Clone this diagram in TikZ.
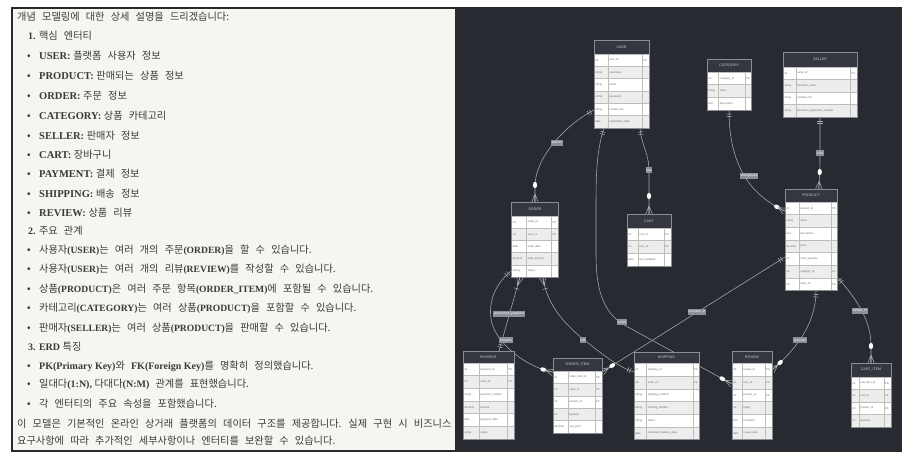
\documentclass[tikz,border=0pt]{standalone}
\usepackage{fontspec}
\setmainfont{Noto Sans CJK KR}[WordSpace=2.7]
\newfontfamily\latf{Liberation Serif}
\newfontfamily\sansf{Liberation Sans}
\usetikzlibrary{decorations.markings}
\pgfdeclarelayer{bg}
\pgfdeclarelayer{lines}
\pgfsetlayers{bg,lines,main}
\definecolor{paper}{HTML}{F5F5F2}
\definecolor{frame}{HTML}{2A2A2A}
\definecolor{ink}{HTML}{3A3A3A}
\definecolor{dark}{HTML}{272A31}
\definecolor{hdr}{HTML}{34373F}
\definecolor{tabline}{HTML}{8A8D94}
\definecolor{rowA}{HTML}{FFFFFF}
\definecolor{rowB}{HTML}{EDEDED}
\definecolor{cellline}{HTML}{BDBDBD}
\definecolor{lineC}{HTML}{A8AAB0}
\definecolor{lblfill}{HTML}{8C8F97}
\definecolor{celltext}{HTML}{6A6A6A}
\definecolor{hdrtext}{HTML}{C8CACF}

\newcommand\ltn[1]{{\latf\bfseries\fontsize{10}{12}\selectfont #1}}
\newcommand\ltb[1]{{\latf\bfseries\fontsize{10.5}{12}\selectfont #1}}
\newcommand\lts[1]{{\latf\bfseries\fontsize{9.6}{12}\selectfont #1}}
\newcommand\bul{\makebox[12pt][l]{\ltn{\textbullet}}}

\tikzset{
  txt/.style={anchor=base west, inner sep=0pt, text=ink, font=\fontsize{10.2}{12}\selectfont},
  conn/.style={draw=lineC, line width=0.55pt},
  tick/.style={draw=lineC, line width=0.55pt},
  oneS/.style={postaction={decorate,decoration={markings,
     mark=at position 4pt with {\draw[tick] (0,-2.6pt)--(0,2.6pt);},
     mark=at position 6.5pt with {\draw[tick] (0,-2.6pt)--(0,2.6pt);}}}},
  oneE/.style={postaction={decorate,decoration={markings,
     mark=at position -6.5pt with {\draw[tick] (0,-2.6pt)--(0,2.6pt);},
     mark=at position -4pt with {\draw[tick] (0,-2.6pt)--(0,2.6pt);}}}},
  manyE/.style={postaction={decorate,decoration={markings,
     mark=at position -#1 with {\fill[white] (0,0) ellipse (3.2pt and 2.1pt);},
     mark=at position -8pt with {\draw[tick] (0,0)--(8pt,3.2pt) (0,0)--(8pt,0pt) (0,0)--(8pt,-3.2pt);}}}},
  manyE/.default=17pt,
  manyS/.style={postaction={decorate,decoration={markings,
     mark=at position 9pt with {\draw[tick] (0,0)--(-9pt,3.2pt) (0,0)--(-9pt,0pt) (0,0)--(-9pt,-3.2pt);},
     mark=at position 12pt with {\draw[tick] (0,-2.6pt)--(0,2.6pt);}}}},
  lbl/.style={fill=lblfill, text=white, inner sep=0.8pt, minimum height=6.5pt,
     font=\sansf\fontsize{3.3}{3.3}\selectfont},
  hdrlbl/.style={text=hdrtext, inner sep=0pt, font=\sansf\fontsize{3.6}{3.6}\selectfont},
  celltxt/.style={anchor=west, text=celltext, inner sep=0pt, font=\sansf\fontsize{2.7}{2.7}\selectfont},
  tabframe/.style={draw=tabline, line width=0.6pt, inner sep=0pt, outer sep=0pt}
}

% #1 name #2 x #3 y #4 width #5 type col #6 key col #7 rows #8 title #9 rows
\newcommand\erdtable[9]{%
  \pgfmathsetmacro\tabH{\hh+#7*\rh}%
  \fill[hdr] (#2,#3) rectangle ++(#4,\hh);
  \node[hdrlbl] at (#2+#4/2,#3+\hh/2) {#8};
  \foreach \ty/\nm/\ky [count=\i] in {#9}{%
    \pgfmathsetmacro\yy{#3+\hh+(\i-1)*\rh}%
    \pgfmathtruncatemacro\odd{mod(\i,2)}%
    \ifnum\odd=1 \colorlet{rc}{rowA}\else\colorlet{rc}{rowB}\fi
    \filldraw[fill=rc,draw=cellline,line width=0.4pt] (#2,\yy) rectangle ++(#5,\rh);
    \filldraw[fill=rc,draw=cellline,line width=0.4pt] (#2+#5,\yy) rectangle ++(#4-#5-#6,\rh);
    \filldraw[fill=rc,draw=cellline,line width=0.4pt] (#2+#4-#6,\yy) rectangle ++(#6,\rh);
    \node[celltxt] at (#2+1.2,\yy+\rh/2) {\ty};
    \node[celltxt] at (#2+#5+1.2,\yy+\rh/2) {\nm};
    \node[celltxt] at (#2+#4-#6+1,\yy+\rh/2) {\ky};
  }
  \node[tabframe,anchor=north west,minimum width=#4pt,minimum height=\tabH pt] (#1) at (#2,#3) {};
}

\begin{document}
\begin{tikzpicture}[x=1pt,y=-1pt]
\useasboundingbox (0,0) rectangle (914,463);
\begin{pgfonlayer}{bg}
  \fill[white] (0,0) rectangle (914,463);
  \fill[paper] (12,8) rectangle (455.5,451);
  \fill[dark] (455.5,8) rectangle (901,451);
  \draw[frame, line width=1.4pt] (12,8) rectangle (901,451);
  \draw[frame, line width=1.2pt] (455.5,8) -- (455.5,451);
\end{pgfonlayer}

% ---------- left text panel ----------
\node[txt] (t1) at (17,20) {개념 모델링에 대한 상세 설명을 드리겠습니다:};
\node[txt] (t2) at (28,39) {\ltn{1. }핵심 엔터티};
\node[txt] (t3) at (27,59) {\bul\ltb{USER: }플랫폼 사용자 정보};
\node[txt] (t4) at (27,79) {\bul\ltb{PRODUCT: }판매되는 상품 정보};
\node[txt] (t5) at (27,99) {\bul\ltb{ORDER: }주문 정보};
\node[txt] (t6) at (27,119) {\bul\ltb{CATEGORY: }상품 카테고리};
\node[txt] (t7) at (27,139) {\bul\ltb{SELLER: }판매자 정보};
\node[txt] (t8) at (27,158) {\bul\ltb{CART: }장바구니};
\node[txt] (t9) at (27,177) {\bul\ltb{PAYMENT: }결제 정보};
\node[txt] (t10) at (27,197) {\bul\ltb{SHIPPING: }배송 정보};
\node[txt] (t11) at (27,216) {\bul\ltb{REVIEW: }상품 리뷰};
\node[txt] (t12) at (28,234) {\ltn{2. }주요 관계};
\node[txt] (t13) at (27,253) {\bul 사용자\lts{(USER)}는 여러 개의 주문\lts{(ORDER)}을 할 수 있습니다.};
\node[txt] (t14) at (27,272) {\bul 사용자\lts{(USER)}는 여러 개의 리뷰\lts{(REVIEW)}를 작성할 수 있습니다.};
\node[txt] (t15) at (27,292) {\bul 상품\lts{(PRODUCT)}은 여러 주문 항목\lts{(ORDER\_ITEM)}에 포함될 수 있습니다.};
\node[txt] (t16) at (27,311) {\bul 카테고리\lts{(CATEGORY)}는 여러 상품\lts{(PRODUCT)}을 포함할 수 있습니다.};
\node[txt] (t17) at (27,331) {\bul 판매자\lts{(SELLER)}는 여러 상품\lts{(PRODUCT)}을 판매할 수 있습니다.};
\node[txt] (t18) at (28,350) {\ltn{3. ERD }특징};
\node[txt] (t19) at (27,369) {\bul\ltn{PK(Primary Key)}와 \ltn{FK(Foreign Key)}를 명확히 정의했습니다.};
\node[txt] (t20) at (27,387) {\bul 일대다\ltn{(1:N), }다대다\ltn{(N:M)} 관계를 표현했습니다.};
\node[txt] (t21) at (27,407) {\bul 각 엔터티의 주요 속성을 포함했습니다.};
\node[txt] (t22) at (17,427) {이 모델은 기본적인 온라인 상거래 플랫폼의 데이터 구조를 제공합니다. 실제 구현 시 비즈니스};
\node[txt] (t23) at (17,444) {요구사항에 따라 추가적인 세부사항이나 엔터티를 보완할 수 있습니다.};

% ---------- ERD tables ----------
\def\hh{14}\def\rh{12.33}
\erdtable{user}{594}{40}{55}{14}{7}{6}{USER}{int/user\_id/PK, string/username/{}, string/email/{}, string/password/{}, string/contact\_info/{}, date/registration\_date/{}}
\def\hh{13}\def\rh{12.67}
\erdtable{category}{707}{59}{44}{11.5}{6}{3}{CATEGORY}{int/category\_id/PK, string/name/{}, text/description/{}}
\def\hh{15}\def\rh{12.5}
\erdtable{seller}{783}{52}{74}{13}{6.5}{4}{SELLER}{int/seller\_id/PK, string/business\_name/{}, string/contact\_info/{}, string/business\_registration\_number/{}}
\def\hh{13}\def\rh{12.64}
\erdtable{product}{785}{189}{52}{14}{6}{7}{PRODUCT}{int/product\_id/PK, string/name/{}, text/description/{}, decimal/price/{}, int/stock\_quantity/{}, int/category\_id/FK, int/seller\_id/FK}
\def\hh{14}\def\rh{12.2}
\erdtable{order}{511.5}{202}{47}{15}{7}{5}{ORDER}{int/order\_id/PK, int/user\_id/FK, date/order\_date/{}, decimal/total\_amount/{}, string/status/{}}
\def\hh{14}\def\rh{12.67}
\erdtable{cart}{627}{214}{44}{11}{7}{3}{CART}{int/cart\_id/PK, int/user\_id/FK, date/last\_modified/{}}
\def\hh{12}\def\rh{12.67}
\erdtable{payment}{463}{351}{51}{16}{6.5}{6}{PAYMENT}{int/payment\_id/PK, int/order\_id/FK, string/payment\_method/{}, decimal/amount/{}, date/payment\_date/{}, string/status/{}}
\def\hh{13}\def\rh{12.4}
\erdtable{orderitem}{553}{358}{49}{15}{7}{5}{ORDER\_ITEM}{int/order\_item\_id/PK, int/order\_id/FK, int/product\_id/FK, int/quantity/{}, decimal/unit\_price/{}}
\def\hh{11.5}\def\rh{12.67}
\erdtable{shipping}{634}{352}{65}{12.5}{6}{6}{SHIPPING}{int/shipping\_id/PK, int/order\_id/FK, string/shipping\_method/{}, string/tracking\_number/{}, string/status/{}, date/estimated\_delivery\_date/{}}
\def\hh{12.5}\def\rh{12.67}
\erdtable{review}{732}{351}{40}{10}{7}{6}{REVIEW}{int/review\_id/PK, int/user\_id/FK, int/product\_id/FK, int/rating/{}, text/comment/{}, date/review\_date/{}}
\def\hh{14}\def\rh{12.5}
\erdtable{cartitem}{851}{363}{40}{8}{7}{4}{CART\_ITEM}{int/cart\_item\_id/PK, int/cart\_id/FK, int/product\_id/FK, int/quantity/{}}

% ---------- connectors ----------
\begin{pgfonlayer}{lines}
\draw[conn, oneS, manyE=17pt] ([yshift=-70pt]user.north west) .. controls (565,125) and (535,158) .. (535,186) -- (order.north);
\draw[conn, oneS, manyE=18pt] ([xshift=46pt]user.south west) .. controls (642,148) and (649,152) .. (649,172) -- (cart.north);
\draw[conn, oneS, manyE=11pt] ([xshift=10pt]user.south west) .. controls (597,150) and (596,170) .. (596,205) -- (596,255) .. controls (596,295) and (606,315) .. (626,326) -- ([yshift=-33pt]review.north west);
\draw[conn, oneS, manyE=9pt] (category.south) .. controls (729,165) and (750,195) .. ([yshift=-22pt]product.north west);
\draw[conn, oneS, manyE=17pt] (seller.south) -- (820,160) .. controls (820,176) and (819,180) .. ([xshift=34pt]product.north west);
\draw[conn, oneS, manyE=10pt] ([yshift=6pt]order.south west) .. controls (492,285) and (485,312) .. (495,331) .. controls (505,350) and (530,368) .. ([yshift=-14pt]orderitem.north west);
\draw[conn, manyS, oneE] ([xshift=8.5pt]order.south west) -- ([xshift=36pt]payment.north west);
\draw[conn, manyS, oneE] ([xshift=31.5pt]order.south west) .. controls (546,302) and (562,322) .. (583,339) .. controls (601,353) and (616,366) .. ([yshift=-20pt]shipping.north west);
\draw[conn, oneS, manyE=12pt] ([yshift=-68pt]product.north west) -- ([yshift=-14pt]orderitem.north east);
\draw[conn, oneS, manyE=11pt] ([xshift=31pt]product.south west) .. controls (816,325) and (795,350) .. ([yshift=-19pt]review.north east);
\draw[conn, oneS, manyE=17pt] ([yshift=-88pt]product.north east) .. controls (858,300) and (871,322) .. (871,345) -- (cartitem.north);
\end{pgfonlayer}

% ---------- relationship labels ----------
\node[lbl] (l1) at (557,143) {places};
\node[lbl] (l2) at (649,170) {has};
\node[lbl] (l3) at (622,322) {writes};
\node[lbl] (l4) at (749,176) {categorizes};
\node[lbl] (l5) at (820,153) {sells};
\node[lbl] (l6) at (506,340) {contains};
\node[lbl] (l7) at (509,314) {processed\_payment};
\node[lbl] (l8) at (583,340) {has};
\node[lbl] (l9) at (697,312) {included\_in};
\node[lbl] (l10) at (800,340) {receives};
\node[lbl] (l11) at (860,311) {added\_to};
\end{tikzpicture}
\end{document}
